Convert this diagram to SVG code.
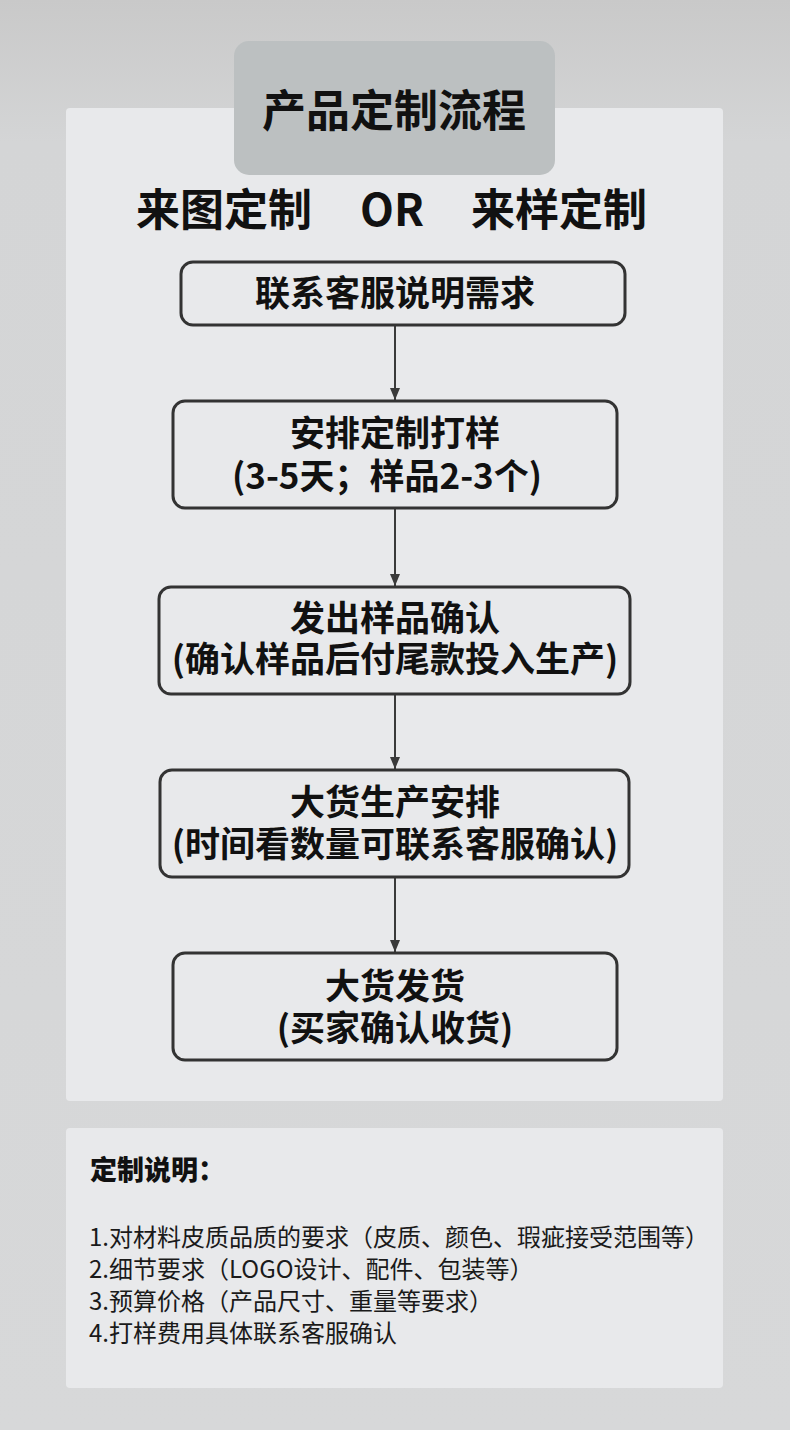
<svg xmlns="http://www.w3.org/2000/svg" width="790" height="1430" viewBox="0 0 790 1430">
  <defs>
    <linearGradient id="bg" x1="0" y1="0" x2="0" y2="1430" gradientUnits="userSpaceOnUse">
      <stop offset="0" stop-color="#c9c9c9"/>
      <stop offset="0.1" stop-color="#d4d5d6"/>
      <stop offset="1" stop-color="#d7d8d9"/>
    </linearGradient>
    <marker id="arrow" markerWidth="12" markerHeight="10" refX="12" refY="5" orient="auto" markerUnits="userSpaceOnUse">
      <path d="M0,0 L12,5 L0,10 Z" fill="#3a3a3a"/>
    </marker>
    <style>
      .panel { fill: #e8e9eb; }
      .box { fill: #e8e9eb; stroke: #333333; stroke-width: 3; }
      .bt { font-family: "Noto Sans CJK SC", "Noto Sans", sans-serif; font-weight: 700; font-size: 35px; fill: #111111; text-anchor: middle; }
      .hd { font-family: "Noto Sans CJK SC", "Noto Sans", sans-serif; font-weight: 700; font-size: 44px; fill: #111111; }
      .note { font-family: "Noto Sans CJK SC", "Noto Sans", sans-serif; font-weight: 400; font-size: 24px; fill: #1a1a1a; }
      .conn { stroke: #3a3a3a; stroke-width: 2; fill: none; }
    </style>
  </defs>
  <rect x="0" y="0" width="790" height="1430" fill="url(#bg)"/>
  <rect class="panel" x="66" y="108" width="657" height="993" rx="4"/>

  <g id="title">
    <rect x="234" y="41" width="321" height="134" rx="15" fill="#bcc0c1"/>
    <text class="hd" x="394" y="127" text-anchor="middle">产品定制流程</text>
  </g>

  <g id="subtitle">
    <text class="hd" x="136" y="226">来图定制</text>
    <text class="hd" x="360" y="226">OR</text>
    <text class="hd" x="471" y="226">来样定制</text>
  </g>

  <g id="connectors">
    <line class="conn" x1="395" y1="326" x2="395" y2="400" marker-end="url(#arrow)"/>
    <line class="conn" x1="395" y1="508" x2="395" y2="586" marker-end="url(#arrow)"/>
    <line class="conn" x1="395" y1="694" x2="395" y2="769" marker-end="url(#arrow)"/>
    <line class="conn" x1="395" y1="877" x2="395" y2="952" marker-end="url(#arrow)"/>
  </g>

  <g id="step1">
    <rect class="box" x="181" y="262" width="444" height="63" rx="12"/>
    <text class="bt" x="395" y="306">联系客服说明需求</text>
  </g>
  <g id="step2">
    <rect class="box" x="173" y="401" width="444" height="107" rx="12"/>
    <text class="bt" x="395" y="446">安排定制打样</text>
    <text class="bt" x="387" y="489">(3-5天；样品2-3个)</text>
  </g>
  <g id="step3">
    <rect class="box" x="159" y="587" width="471" height="107" rx="12"/>
    <text class="bt" x="395" y="631">发出样品确认</text>
    <text class="bt" x="395" y="672">(确认样品后付尾款投入生产)</text>
  </g>
  <g id="step4">
    <rect class="box" x="160" y="770" width="469" height="107" rx="12"/>
    <text class="bt" x="395" y="815">大货生产安排</text>
    <text class="bt" x="395" y="857">(时间看数量可联系客服确认)</text>
  </g>
  <g id="step5">
    <rect class="box" x="173" y="953" width="444" height="107" rx="12"/>
    <text class="bt" x="395" y="999">大货发货</text>
    <text class="bt" x="395" y="1041">(买家确认收货)</text>
  </g>

  <g id="notes">
    <rect class="panel" x="66" y="1128" width="657" height="260" rx="4"/>
    <text x="90" y="1180" font-family="Noto Sans CJK SC, sans-serif" font-weight="900" font-size="27" fill="#111111">定制说明：</text>
    <text class="note" x="89" y="1246">1.对材料皮质品质的要求（皮质、颜色、瑕疵接受范围等）</text>
    <text class="note" x="89" y="1278">2.细节要求（LOGO设计、配件、包装等）</text>
    <text class="note" x="89" y="1310">3.预算价格（产品尺寸、重量等要求）</text>
    <text class="note" x="89" y="1342">4.打样费用具体联系客服确认</text>
  </g>
</svg>
